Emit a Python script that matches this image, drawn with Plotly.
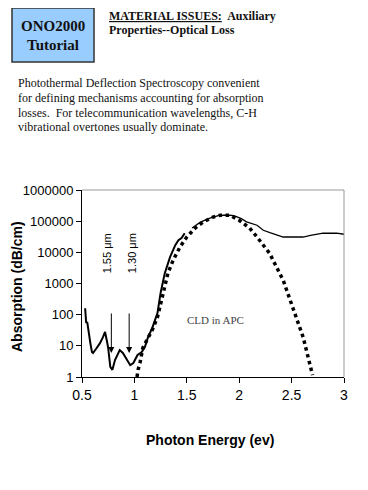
import math
import plotly.graph_objects as go

# ---- data ----
solid_low_energy = [0.53, 0.54, 0.55, 0.56, 0.58, 0.595, 0.605, 0.64, 0.67, 0.70, 0.72, 0.74, 0.75,
                    0.77, 0.79, 0.815, 0.86, 0.89, 0.93, 0.96, 0.99, 1.03, 1.07, 1.10, 1.13, 1.17,
                    1.22, 1.25, 1.29, 1.34, 1.39, 1.42, 1.45, 1.48]
solid_low_abs = [160, 54, 58, 32, 12, 6.3, 5.9, 8.5, 12, 19, 28, 13, 8.5,
                 2.1, 1.7, 3.5, 7.3, 5.9, 3.5, 2.4, 2.8, 5.1, 6.3, 9.1, 19, 37,
                 112, 500, 2150, 7000, 17000, 24500, 28600, 41000]

solid_high_energy = [1.55, 1.63, 1.72, 1.80, 1.88, 1.95, 2.02, 2.07, 2.17, 2.23, 2.30, 2.36,
                     2.42, 2.50, 2.61, 2.68, 2.80, 2.93, 3.0]
solid_high_abs = [60000, 93000, 125000, 150000, 158000, 150000, 120000, 95000, 74000, 51000,
                  42000, 35500, 31000, 31000, 31000, 35000, 41000, 41000, 38000]

dotted_energy = [1.025, 1.035, 1.055, 1.08, 1.12, 1.17, 1.22, 1.265, 1.32, 1.37, 1.435, 1.5,
                 1.58, 1.655, 1.75, 1.82, 1.91, 2.0, 2.1, 2.17, 2.29, 2.42, 2.51, 2.61, 2.70]
dotted_abs = [1, 1.7, 3, 8.5, 15.5, 32, 83, 400, 2150, 5600, 14800, 31000,
              60000, 93000, 135000, 155000, 155000, 107000, 60000, 31000, 9300, 1260, 174, 19, 1.15]

x_tick_vals = [0.5, 1, 1.5, 2, 2.5, 3]
x_tick_text = ["0.5", "1", "1.5", "2", "2.5", "3"]
y_tick_vals = [1, 10, 100, 1000, 10000, 100000, 1000000]
y_tick_text = ["1", "10", "100", "1000", "10000", "100000", "1000000"]

arrow_energy = [0.78, 0.95]
arrow_tip_abs = [5.9, 5.9]
arrow_labels = ["1.55 \u03bcm", "1.30 \u03bcm"]

# ---- layout helpers (reference pixel -> paper) ----
OFF = 8  # page body margin offset
W, H = 368, 490
L, R, T, B = 82, 24, 190, 113
PW, PH = W - L - R, H - T - B


def px(x):
    return (x - L) / PW


def py(y):
    return (H - B - y) / PH


SANS = "Liberation Sans Narrow, Liberation Sans, Arial"
SERIF = "Liberation Serif, Times New Roman, serif"

fig = go.Figure()
fig.add_trace(go.Scatter(x=dotted_energy, y=dotted_abs, mode="lines",
                         line=dict(color="black", width=3.5, dash="dot"),
                         hoverinfo="skip", showlegend=False))
fig.add_trace(go.Scatter(x=solid_low_energy, y=solid_low_abs, mode="lines",
                         line=dict(color="black", width=2),
                         hoverinfo="skip", showlegend=False))
fig.add_trace(go.Scatter(x=solid_high_energy, y=solid_high_abs, mode="lines",
                         line=dict(color="black", width=1.3),
                         hoverinfo="skip", showlegend=False))

annotations = []
# arrows and rotated labels
for e, v, lab, sh in zip(arrow_energy, arrow_tip_abs, arrow_labels, [-4, 3]):
    annotations.append(dict(x=e, y=math.log10(v), xref="x", yref="y", text="",
                            showarrow=True, ax=0, ay=-41, arrowhead=2, arrowsize=1.2,
                            arrowwidth=1, arrowcolor="black", standoff=0))
    annotations.append(dict(x=e, y=math.log10(v), xref="x", yref="y", text=lab,
                            showarrow=False, textangle=-90, xshift=sh, yshift=100,
                            xanchor="center", yanchor="middle",
                            font=dict(family=SANS, size=11, color="black")))


def label(xp, yp, text, font, anchor="center", angle=0):
    annotations.append(dict(x=px(xp), y=py(yp), xref="paper", yref="paper", text=text,
                            showarrow=False, xanchor=anchor, yanchor="middle",
                            textangle=angle, font=font))


label(215, 320, "CLD in APC", dict(family=SERIF, size=11, color="#444444"))
label(210, 440, "<b>Photon Energy (ev)</b>", dict(family=SANS, size=14, color="black"))
label(17, 287, "<b>Absorption (dB/cm)</b>", dict(family=SANS, size=14, color="black"), angle=-90)

# header
label(53, 26, "<b>ONO2000</b>", dict(family=SERIF, size=15, color="#111"))
label(53, 45, "<b>Tutorial</b>", dict(family=SERIF, size=15, color="#111"))
label(107, 16, "<b><u>MATERIAL ISSUES:</u>  Auxiliary</b>",
      dict(family=SERIF, size=12, color="#111"), anchor="left")
label(107, 30, "<b>Properties--Optical Loss</b>",
      dict(family=SERIF, size=12, color="#111"), anchor="left")
para = ["Photothermal Deflection Spectroscopy convenient",
        "for defining mechanisms accounting for absorption",
        "losses.  For telecommunication wavelengths, C-H",
        "vibrational overtones usually dominate."]
for i, line in enumerate(para):
    label(16, 83 + i * 14.8, line, dict(family=SERIF, size=12, color="#111"), anchor="left")

shapes = [
    dict(type="rect", xref="paper", yref="paper", x0=px(12), x1=px(94), y0=py(62), y1=py(8),
         fillcolor="#99ccff", line=dict(color="#333333", width=1.5), layer="below"),
    dict(type="line", xref="paper", yref="paper", x0=0, x1=1, y0=1, y1=1,
         line=dict(color="#999999", width=1)),
    dict(type="line", xref="paper", yref="paper", x0=1, x1=1, y0=0, y1=1,
         line=dict(color="#999999", width=1)),
]

fig.update_layout(
    width=W - OFF, height=H - OFF, autosize=False,
    margin=dict(l=L - OFF, r=R, t=T - OFF, b=B),
    paper_bgcolor="white", plot_bgcolor="white",
    showlegend=False,
    annotations=annotations, shapes=shapes,
    xaxis=dict(range=[0.5, 3], tickvals=x_tick_vals, ticktext=x_tick_text,
               showgrid=False, zeroline=False, showline=True, linecolor="black", linewidth=1,
               ticks="outside", ticklen=5, tickcolor="black",
               tickfont=dict(family=SANS, size=14, color="black")),
    yaxis=dict(type="log", range=[0, 6], tickvals=y_tick_vals, ticktext=y_tick_text,
               showgrid=False, zeroline=False, showline=True, linecolor="black", linewidth=1,
               ticks="outside", ticklen=5, tickcolor="black",
               tickfont=dict(family=SANS, size=13, color="black")),
)

fig.write_html("out.html")
